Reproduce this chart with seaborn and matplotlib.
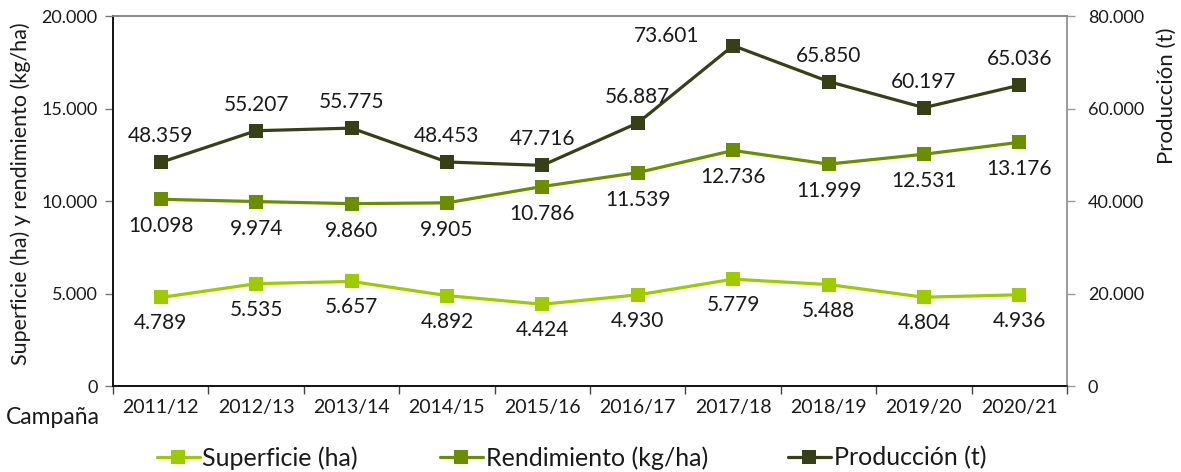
import matplotlib
matplotlib.use("Agg")
import matplotlib.pyplot as plt
from matplotlib.lines import Line2D
from matplotlib.ticker import FuncFormatter, FixedLocator
import seaborn as sns
import pandas as pd

campanas = ["2011/12", "2012/13", "2013/14", "2014/15", "2015/16",
            "2016/17", "2017/18", "2018/19", "2019/20", "2020/21"]
superficie = [4789, 5535, 5657, 4892, 4424, 4930, 5779, 5488, 4804, 4936]
rendimiento = [10098, 9974, 9860, 9905, 10786, 11539, 12736, 11999, 12531, 13176]
produccion = [48359, 55207, 55775, 48453, 47716, 56887, 73601, 65850, 60197, 65036]

c_sup = "#9dcb00"
c_ren = "#6b8e00"
c_pro = "#363f15"

sns.set_theme(style="white")
plt.rcParams["font.family"] = ["Lato", "DejaVu Sans"]
txt = "#1a1a1a"


def miles(v, pos=None):
    return f"{int(round(v)):,}".replace(",", ".")


df = pd.DataFrame({"pos": range(len(campanas)), "campana": campanas,
                   "sup": superficie, "ren": rendimiento, "pro": produccion})

fig, ax = plt.subplots(figsize=(11.81, 4.72), dpi=100)
fig.subplots_adjust(left=0.0957, right=0.9035, top=0.966, bottom=0.182)
ax2 = ax.twinx()

estilo = dict(marker="s", markersize=10, markeredgewidth=0, linewidth=2.3)
sns.lineplot(data=df, x="pos", y="sup", ax=ax, color=c_sup, **estilo)
sns.lineplot(data=df, x="pos", y="ren", ax=ax, color=c_ren, **estilo)
sns.lineplot(data=df, x="pos", y="pro", ax=ax2, color=c_pro, **estilo)

# data labels (73.601 sits up-left of its point, like the original)
for i in range(len(campanas)):
    ax.annotate(miles(superficie[i]), (i, superficie[i]), xytext=(0, -26),
                textcoords="offset pixels", ha="center", va="center", fontsize=15, color=txt)
    ax.annotate(miles(rendimiento[i]), (i, rendimiento[i]), xytext=(0, -27),
                textcoords="offset pixels", ha="center", va="center", fontsize=15, color=txt)
    off = (-67, 10) if i == 6 else (0, 26)
    ax2.annotate(miles(produccion[i]), (i, produccion[i]), xytext=off,
                 textcoords="offset pixels", ha="center", va="center", fontsize=15, color=txt)

ax.set_xlim(-0.5, len(campanas) - 0.5)
ax.set_ylim(0, 20000)
ax2.set_ylim(0, 80000)
ax.set_yticks(range(0, 20001, 5000))
ax2.set_yticks(range(0, 80001, 20000))
ax.yaxis.set_major_formatter(FuncFormatter(miles))
ax2.yaxis.set_major_formatter(FuncFormatter(miles))

ax.xaxis.set_major_locator(FixedLocator([i - 0.5 for i in range(len(campanas) + 1)]))
ax.xaxis.set_minor_locator(FixedLocator(list(range(len(campanas)))))
ax.set_xticklabels([], minor=False)
ax.set_xticklabels(campanas, minor=True)
ax.tick_params(axis="x", which="major", length=6, width=1, color="#444444", direction="out", bottom=True)
ax.tick_params(axis="x", which="minor", length=0, labelsize=14, pad=9, bottom=True, labelcolor=txt)
ax.tick_params(axis="y", length=6, width=1, color="#777777", direction="out", left=True,
               labelsize=13, pad=5, labelcolor=txt)
ax2.tick_params(axis="y", length=6, width=1, color="#999999", direction="out", right=True,
                labelsize=13, pad=9, labelcolor=txt)

ax.set_xlabel("")
ax.set_ylabel("Superficie (ha) y rendimiento (kg/ha)", fontsize=15.5, color=txt)
ax.yaxis.set_label_coords(-0.086, 0.52)
ax2.set_ylabel("Producción (t)", fontsize=16, color=txt)
ax2.yaxis.set_label_coords(1.094, 0.785)

for a in (ax, ax2):
    a.spines["left"].set_color("#111111")
    a.spines["bottom"].set_color("#111111")
    a.spines["top"].set_color("#888888")
    a.spines["right"].set_color("#999999")
    for s in a.spines.values():
        s.set_linewidth(1.2)
    a.grid(False)

fig.text(53 / 1181, 1 - 418 / 472, "Campaña", ha="center", va="center", fontsize=16.5, color=txt)

# legend entries spaced like the original
nombres = ["Superficie (ha)", "Rendimiento (kg/ha)", "Producción (t)"]
inicio = [157, 440, 788]
for c, n, x0 in zip((c_sup, c_ren, c_pro), nombres, inicio):
    h = Line2D([], [], color=c, **estilo)
    fig.legend([h], [n], loc="center left", bbox_to_anchor=(x0 / 1181, 1 - 458 / 472),
               frameon=False, fontsize=18, handlelength=1.7, handletextpad=0.12,
               borderpad=0, borderaxespad=0, labelcolor=txt)

fig.savefig("out.png", dpi=100)
